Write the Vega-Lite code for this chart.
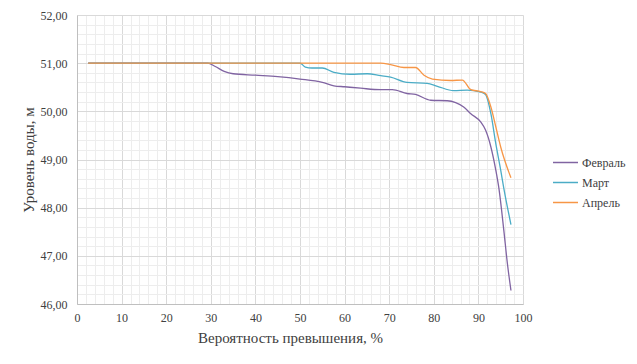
{
  "$schema": "https://vega.github.io/schema/vega-lite/v6.json",
  "width": 446,
  "height": 289,
  "autosize": "none",
  "padding": {"left": 77, "top": 15, "right": 114, "bottom": 60},
  "background": "white",
  "config": {
    "view": {"stroke": null},
    "font": "'Liberation Serif', 'Times New Roman', serif",
    "axis": {"labelFont": "'Liberation Serif', 'Times New Roman', serif", "titleFont": "'Liberation Serif', 'Times New Roman', serif"},
    "legend": {"labelFont": "'Liberation Serif', 'Times New Roman', serif", "titleFont": "'Liberation Serif', 'Times New Roman', serif"}
  },
  "data": {"values": [
    {"p": 2.5, "h": 51, "s": "Февраль"},
    {"p": 29.3, "h": 51, "s": "Февраль"},
    {"p": 31, "h": 50.93, "s": "Февраль"},
    {"p": 33, "h": 50.83, "s": "Февраль"},
    {"p": 35, "h": 50.78, "s": "Февраль"},
    {"p": 40, "h": 50.75, "s": "Февраль"},
    {"p": 45, "h": 50.72, "s": "Февраль"},
    {"p": 50, "h": 50.67, "s": "Февраль"},
    {"p": 55, "h": 50.6, "s": "Февраль"},
    {"p": 57.6, "h": 50.53, "s": "Февраль"},
    {"p": 60, "h": 50.51, "s": "Февраль"},
    {"p": 63.6, "h": 50.48, "s": "Февраль"},
    {"p": 68, "h": 50.45, "s": "Февраль"},
    {"p": 70.7, "h": 50.45, "s": "Февраль"},
    {"p": 74, "h": 50.37, "s": "Февраль"},
    {"p": 75.9, "h": 50.35, "s": "Февраль"},
    {"p": 79.3, "h": 50.23, "s": "Февраль"},
    {"p": 83, "h": 50.22, "s": "Февраль"},
    {"p": 84.9, "h": 50.18, "s": "Февраль"},
    {"p": 86.7, "h": 50.09, "s": "Февраль"},
    {"p": 88.3, "h": 49.95, "s": "Февраль"},
    {"p": 90.5, "h": 49.78, "s": "Февраль"},
    {"p": 91.6, "h": 49.61, "s": "Февраль"},
    {"p": 92.8, "h": 49.26, "s": "Февраль"},
    {"p": 93.9, "h": 48.78, "s": "Февраль"},
    {"p": 94.6, "h": 48.4, "s": "Февраль"},
    {"p": 95.7, "h": 47.53, "s": "Февраль"},
    {"p": 96.5, "h": 46.84, "s": "Февраль"},
    {"p": 97.3, "h": 46.28, "s": "Февраль"},
    {"p": 2.5, "h": 51, "s": "Март"},
    {"p": 50, "h": 51, "s": "Март"},
    {"p": 51.2, "h": 50.92, "s": "Март"},
    {"p": 52.7, "h": 50.9, "s": "Март"},
    {"p": 55, "h": 50.9, "s": "Март"},
    {"p": 57.6, "h": 50.81, "s": "Март"},
    {"p": 61.3, "h": 50.77, "s": "Март"},
    {"p": 65.1, "h": 50.78, "s": "Март"},
    {"p": 68.1, "h": 50.74, "s": "Март"},
    {"p": 70.3, "h": 50.71, "s": "Март"},
    {"p": 74, "h": 50.6, "s": "Март"},
    {"p": 78.5, "h": 50.58, "s": "Март"},
    {"p": 80.8, "h": 50.52, "s": "Март"},
    {"p": 84.5, "h": 50.43, "s": "Март"},
    {"p": 87.5, "h": 50.44, "s": "Март"},
    {"p": 90.5, "h": 50.4, "s": "Март"},
    {"p": 91.6, "h": 50.35, "s": "Март"},
    {"p": 92.8, "h": 49.95, "s": "Март"},
    {"p": 93.9, "h": 49.33, "s": "Март"},
    {"p": 95.0, "h": 48.78, "s": "Март"},
    {"p": 95.7, "h": 48.4, "s": "Март"},
    {"p": 97.3, "h": 47.65, "s": "Март"},
    {"p": 2.5, "h": 51, "s": "Апрель"},
    {"p": 68.1, "h": 51, "s": "Апрель"},
    {"p": 70.3, "h": 50.97, "s": "Апрель"},
    {"p": 73.3, "h": 50.91, "s": "Апрель"},
    {"p": 75.9, "h": 50.91, "s": "Апрель"},
    {"p": 77.8, "h": 50.75, "s": "Апрель"},
    {"p": 79.7, "h": 50.67, "s": "Апрель"},
    {"p": 83.8, "h": 50.64, "s": "Апрель"},
    {"p": 86.4, "h": 50.65, "s": "Апрель"},
    {"p": 88.3, "h": 50.45, "s": "Апрель"},
    {"p": 90.5, "h": 50.41, "s": "Апрель"},
    {"p": 91.6, "h": 50.37, "s": "Апрель"},
    {"p": 92.8, "h": 50.09, "s": "Апрель"},
    {"p": 93.9, "h": 49.68, "s": "Апрель"},
    {"p": 95.0, "h": 49.26, "s": "Апрель"},
    {"p": 97.3, "h": 48.62, "s": "Апрель"}
  ]},
  "layer": [
    {
      "mark": {"type": "line", "opacity": 0},
      "encoding": {
        "x": {"field": "p", "type": "quantitative", "scale": {"domain": [0, 100], "nice": false},
          "axis": {"orient": "top", "values": [2,4,6,8,12,14,16,18,22,24,26,28,32,34,36,38,42,44,46,48,52,54,56,58,62,64,66,68,72,74,76,78,82,84,86,88,92,94,96,98],
            "grid": true, "gridColor": "#ededed", "gridWidth": 1, "labels": false, "ticks": false, "domain": false, "title": null}},
        "y": {"field": "h", "type": "quantitative", "scale": {"domain": [46, 52], "nice": false, "zero": false},
          "axis": {"orient": "right", "values": [46.2,46.4,46.6,46.8,47.2,47.4,47.6,47.8,48.2,48.4,48.6,48.8,49.2,49.4,49.6,49.8,50.2,50.4,50.6,50.8,51.2,51.4,51.6,51.8],
            "grid": true, "gridColor": "#ededed", "gridWidth": 1, "labels": false, "ticks": false, "domain": false, "title": null}}
      }
    },
    {
      "mark": {"type": "line", "interpolate": "monotone", "strokeWidth": 1.3},
      "encoding": {
        "x": {"field": "p", "type": "quantitative", "scale": {"domain": [0, 100], "nice": false},
          "axis": {"orient": "bottom", "values": [0,10,20,30,40,50,60,70,80,90,100], "grid": true, "gridColor": "#d9d9d9",
            "domainColor": "#bfbfbf", "ticks": false, "labelFontSize": 12, "labelColor": "#404040", "labelPadding": 8, "labelFlush": false,
            "title": "Вероятность превышения, %", "titleFontSize": 15, "titleFontWeight": "normal", "titleColor": "#404040", "titleX": 213, "titleY": 33, "titleBaseline": "middle"}},
        "y": {"field": "h", "type": "quantitative", "scale": {"domain": [46, 52], "nice": false, "zero": false},
          "axis": {"orient": "left", "values": [46,47,48,49,50,51,52], "grid": true, "gridColor": "#d9d9d9",
            "domainColor": "#bfbfbf", "ticks": false, "labelFontSize": 12, "labelColor": "#404040", "labelPadding": 10, "labelFlush": false,
            "labelExpr": "replace(format(datum.value, '.2f'), '.', ',')",
            "title": "Уровень воды, м", "titleFontSize": 15, "titleFontWeight": "normal", "titleColor": "#404040", "titleX": -49, "titleBaseline": "middle"}},
        "color": {"field": "s", "type": "nominal", "sort": ["Февраль", "Март", "Апрель"],
          "scale": {"domain": ["Февраль", "Март", "Апрель"], "range": ["#8064a2", "#4bacc6", "#f79646"]},
          "legend": {"title": null, "orient": "none", "legendX": 475, "legendY": 134, "symbolType": "stroke", "symbolSize": 625, "symbolStrokeWidth": 1.5,
            "labelFontSize": 12, "labelColor": "#404040", "labelOffset": 3, "rowPadding": -3}}
      }
    }
  ],
  "resolve": {"axis": {"x": "independent", "y": "independent"}}
}
